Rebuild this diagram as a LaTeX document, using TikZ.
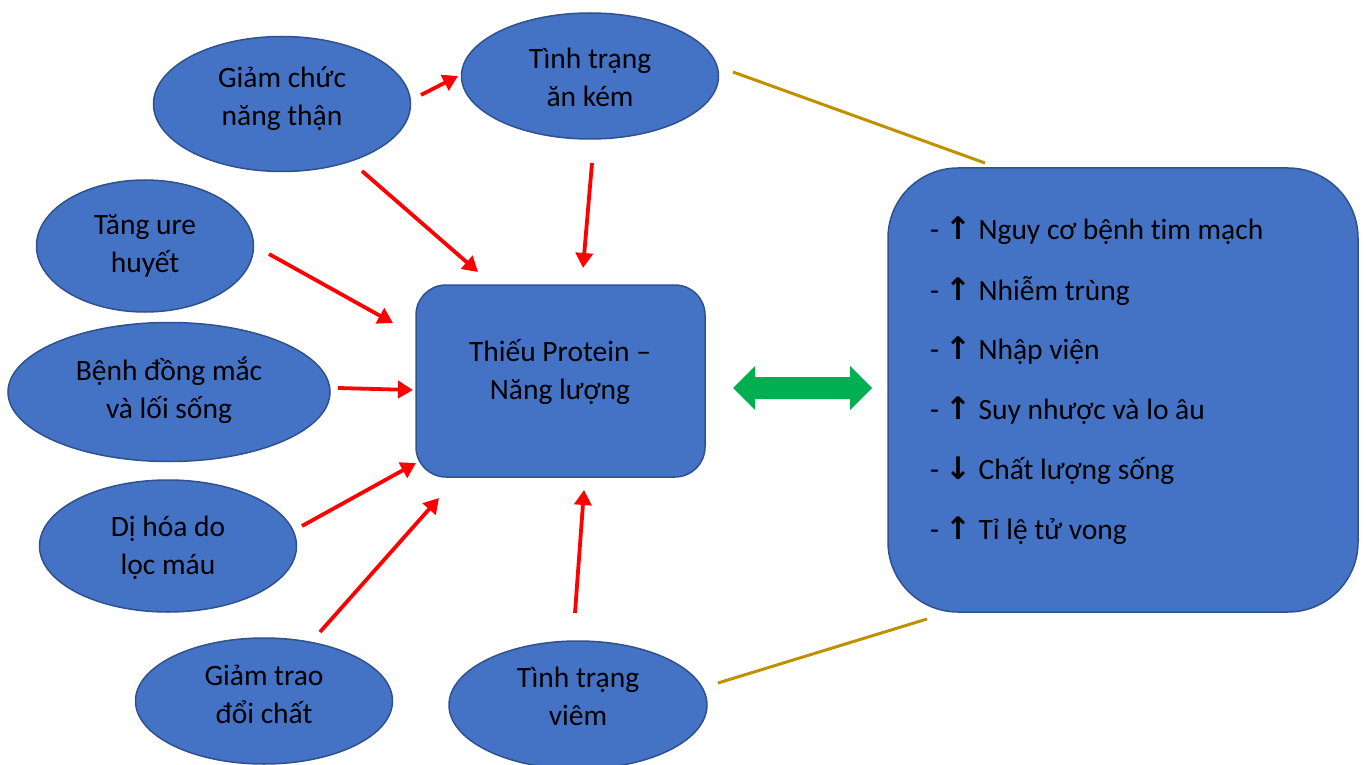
\documentclass[tikz,border=0pt]{standalone}
\usepackage{fontspec}
\setmainfont{Carlito}[Ligatures=NoCommon]
\newfontfamily\arrfont{DejaVu Sans}[BoldFont={DejaVu Sans Bold}]
\usetikzlibrary{shapes.geometric,arrows.meta}
\definecolor{fillblue}{HTML}{4472C4}
\definecolor{edgeblue}{HTML}{2F528F}
\definecolor{arrred}{HTML}{FF0000}
\definecolor{arrgreen}{HTML}{00B050}
\definecolor{gold}{HTML}{BF9000}
\tikzset{
  oval/.style={ellipse, draw=edgeblue, fill=fillblue, line width=1.5pt, inner sep=0pt},
  rbox/.style={rectangle, draw=edgeblue, fill=fillblue, line width=1.5pt, inner sep=0pt},
  redarr/.style={draw=arrred, line width=3.8pt, -{Triangle[length=15pt,width=17pt]}},
  goldline/.style={draw=gold, line width=3pt},
  txt/.style={align=center, font=\fontsize{29.5}{38}\selectfont, inner sep=0pt},
  item/.style={anchor=west, font=\fontsize{29.5}{32}\selectfont, inner sep=0pt}
}
\newcommand{\uparr}{{\arrfont\bfseries\fontsize{31}{32}\selectfont↑}}
\newcommand{\dnarr}{{\arrfont\bfseries\fontsize{31}{32}\selectfont↓}}
\begin{document}
\begin{tikzpicture}[x=1pt,y=-1pt]
\useasboundingbox (0,0) rectangle (1369,765);
% ovals
\node[oval, minimum width=257pt, minimum height=135pt] (gc) at (282,104) {};
\node[oval, minimum width=257pt, minimum height=126pt] (tt) at (590,76) {};
\node[oval, minimum width=217pt, minimum height=132pt] (tu) at (145,246) {};
\node[oval, minimum width=322pt, minimum height=139pt] (bd) at (169,392) {};
\node[oval, minimum width=257pt, minimum height=132pt] (dh) at (168,546) {};
\node[oval, minimum width=257pt, minimum height=126pt] (gt) at (264,701) {};
\node[oval, minimum width=258pt, minimum height=128pt] (tv) at (578,705) {};
\node[txt] (gcT) at (282,99) {Giảm chức\\năng thận};
\node[txt] (ttT) at (590,77.5) {Tình trạng\\ăn kém};
\node[txt] (tuT) at (145,246) {Tăng ure\\huyết};
\node[txt] (bdT) at (169,390) {Bệnh đồng mắc\\và lối sống};
\node[txt] (dhT) at (168,547.5) {Dị hóa do\\lọc máu};
\node[txt] (gtT) at (264,694) {Giảm trao\\đổi chất};
\node[txt] (tvT) at (578,696) {Tình trạng\\viêm};
% central box
\node[rbox, rounded corners=30pt, minimum width=289pt, minimum height=192pt] (ct) at (560.5,381) {};
\node[txt] (ctT) at (560,371.5) {Thiếu Protein –\\Năng lượng};
% right box
\node[rbox, rounded corners=70pt, minimum width=470pt, minimum height=444pt] (rb) at (1123,390) {};
\node[item] (r1) at (930,231) {- \uparr{} Nguy cơ bệnh tim mạch};
\node[item] (r2) at (930,291) {- \uparr{} Nhiễm trùng};
\node[item] (r3) at (930,351) {- \uparr{} Nhập viện};
\node[item] (r4) at (930,411) {- \uparr{} Suy nhược và lo âu};
\node[item] (r5) at (930,471) {- \dnarr{} Chất lượng sống};
\node[item] (r6) at (930,531) {- \uparr{} Tỉ lệ tử vong};
% red arrows
\coordinate (a1s) at (421,95); \coordinate (a1e) at (458,76);
\coordinate (a2s) at (362,171); \coordinate (a2e) at (478,272);
\coordinate (a3s) at (592,163); \coordinate (a3e) at (583,268);
\coordinate (a4s) at (269,254); \coordinate (a4e) at (393,323);
\coordinate (a5s) at (338,388); \coordinate (a5e) at (413,390);
\coordinate (a6s) at (302,526); \coordinate (a6e) at (416,463);
\coordinate (a7s) at (320,632); \coordinate (a7e) at (439,498);
\coordinate (a8s) at (575,613); \coordinate (a8e) at (584,490);
\draw[redarr] (a1s) -- (a1e);
\draw[redarr] (a2s) -- (a2e);
\draw[redarr] (a3s) -- (a3e);
\draw[redarr] (a4s) -- (a4e);
\draw[redarr] (a5s) -- (a5e);
\draw[redarr] (a6s) -- (a6e);
\draw[redarr] (a7s) -- (a7e);
\draw[redarr] (a8s) -- (a8e);
% green double arrow
\fill[arrgreen] (733,388) -- (755,366) -- (755,377) -- (850,377) -- (850,366) -- (872,388) -- (850,410) -- (850,399) -- (755,399) -- (755,410) -- cycle;
% gold lines
\coordinate (g1s) at (733,72); \coordinate (g1e) at (985,163);
\coordinate (g2s) at (718,683); \coordinate (g2e) at (927,619);
\draw[goldline] (g1s) -- (g1e);
\draw[goldline] (g2s) -- (g2e);
\end{tikzpicture}
\end{document}
